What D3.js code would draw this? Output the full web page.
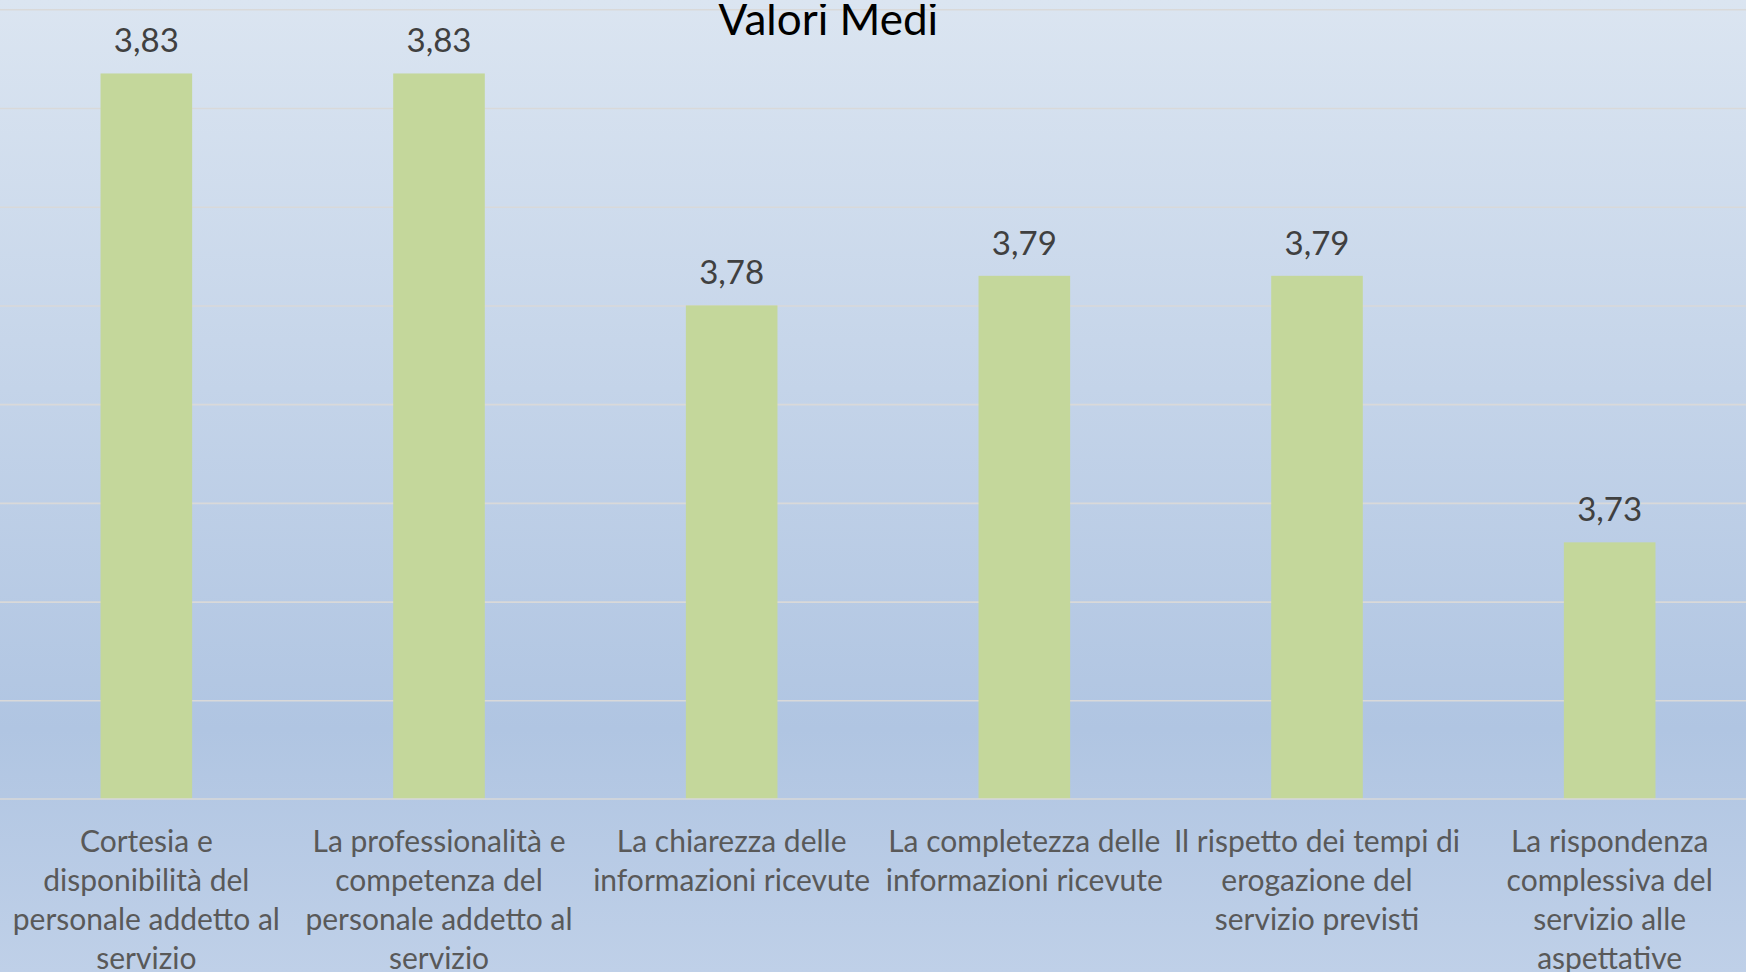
<!DOCTYPE html>
<html>
<head>
<meta charset="utf-8">
<script src="https://cdn.jsdelivr.net/npm/d3@7"></script>
<style>
	html, body { margin: 0; padding: 0; overflow: hidden; }
	svg { display: block; }
</style>
</head>
<body>
<svg id="chart" width="1746" height="972"></svg>
<script>
var titolo = "Valori Medi";

// categorie (a capo come nel grafico originale)
var categorie = [
	"Cortesia e\ndisponibilità del\npersonale addetto al\nservizio",
	"La professionalità e\ncompetenza del\npersonale addetto al\nservizio",
	"La chiarezza delle\ninformazioni ricevute",
	"La completezza delle\ninformazioni ricevute",
	"Il rispetto dei tempi di\nerogazione del\nservizio previsti",
	"La rispondenza\ncomplessiva del\nservizio alle\naspettative"
];

var valori = [3.827, 3.827, 3.780, 3.786, 3.786, 3.732];

var yMin = 3.68;
var yMax = 3.84;
var yTicks = [3.68, 3.70, 3.72, 3.74, 3.76, 3.78, 3.80, 3.82, 3.84];

var width = 1746;
var height = 972;

var svg = d3.select('#chart');

// sfondo sfumato
var defs = svg.append('defs');
var grad = defs.append('linearGradient')
	.attr('id', 'sfondo')
	.attr('x1', 0).attr('y1', 0).attr('x2', 0).attr('y2', 1);
grad.append('stop').attr('offset', '0%').attr('stop-color', '#dbe5f1');
grad.append('stop').attr('offset', '75%').attr('stop-color', '#b0c5e2');
grad.append('stop').attr('offset', '100%').attr('stop-color', '#bfd0e8');

// il titolo nell'originale e' tagliato in alto
defs.append('clipPath').attr('id', 'taglio')
	.append('rect')
	.attr('x', 0).attr('y', 4)
	.attr('width', width).attr('height', height);

svg.append('rect')
	.attr('width', width)
	.attr('height', height)
	.attr('fill', 'url(#sfondo)');

var x = d3.scaleBand()
	.domain(d3.range(categorie.length))
	.range([0, 1756])
	.paddingInner(0.687)
	.paddingOuter(0.3435);

var y = d3.scaleLinear()
	.domain([yMin, yMax])
	.range([799, 9.3]);

// griglia
var griglia = svg.append('g')
	.call(d3.axisLeft(y).tickValues(yTicks.slice(1)).tickSize(-width).tickFormat(''));
griglia.select('.domain').remove();
griglia.selectAll('.tick line')
	.attr('stroke', '#d9d9d9')
	.attr('stroke-width', 1.6);

// barre
svg.append('g').selectAll('rect')
	.data(valori)
	.enter().append('rect')
	.attr('x', function(d, i) { return x(i); })
	.attr('y', function(d) { return y(d); })
	.attr('width', x.bandwidth())
	.attr('height', function(d) { return y(yMin) - y(d); })
	.attr('fill', '#c4d79b');

// asse categorie
var asse = svg.append('g')
	.attr('transform', 'translate(0,' + y(yMin) + ')')
	.call(d3.axisBottom(x).tickSize(0).tickFormat(''));
asse.select('.domain')
	.attr('d', 'M0,0H' + width)
	.attr('stroke', '#d9d9d9')
	.attr('stroke-width', 1.6);

asse.selectAll('.tick').each(function(i) {
	var t = d3.select(this).append('text')
		.attr('fill', '#595959')
		.attr('font-family', 'Lato, sans-serif')
		.attr('font-size', 30)
		.attr('text-anchor', 'middle');
	categorie[i].split('\n').forEach(function(riga, k) {
		t.append('tspan')
			.attr('x', 0)
			.attr('y', 53 + k * 39)
			.text(riga);
	});
});

// etichette valori
var fmt = d3.format('.2f');
svg.append('g').selectAll('text')
	.data(valori)
	.enter().append('text')
	.attr('x', function(d, i) { return x(i) + x.bandwidth() / 2; })
	.attr('y', function(d) { return y(d) - 21; })
	.attr('text-anchor', 'middle')
	.attr('fill', '#404040')
	.attr('font-family', 'Lato, sans-serif')
	.attr('font-size', 33)
	.text(function(d) { return fmt(d).replace('.', ','); });

// titolo
svg.append('text')
	.attr('x', 828)
	.attr('y', 35)
	.attr('clip-path', 'url(#taglio)')
	.attr('text-anchor', 'middle')
	.attr('fill', '#000')
	.attr('font-family', 'Lato, sans-serif')
	.attr('font-size', 44)
	.text(titolo);
</script>
</body>
</html>
